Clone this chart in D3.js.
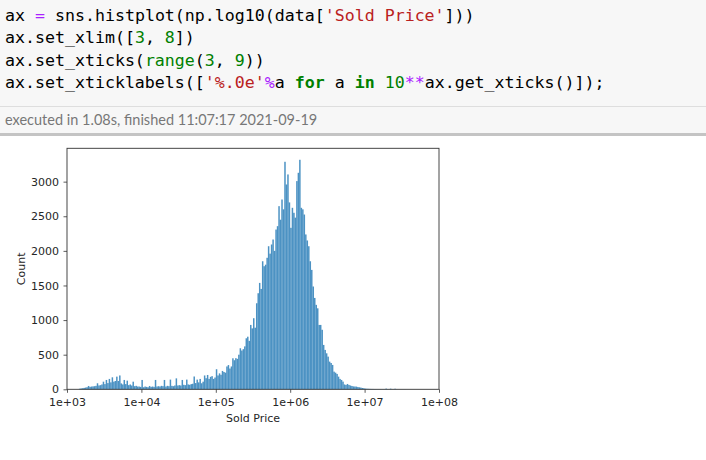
<!DOCTYPE html>
<html>
<head>
<meta charset="utf-8">
<script src="https://cdn.jsdelivr.net/npm/d3@7"></script>
<style>
html,body{margin:0;padding:0;background:#fff;}
svg{display:block;}
</style>
</head>
<body>
<svg id="page" width="706" height="460"></svg>
<script>
// ---- data ----
const binStart = 3.0;
const binWidth = 0.02;
const counts = [
  0,0,0,0,0,0,0,0,8,12,
  15,20,25,30,48,35,40,42,45,50,
  87,55,60,70,110,75,135,90,150,100,
  173,110,120,183,120,200,85,70,135,75,
  125,60,70,55,110,45,50,40,40,35,
  135,30,40,35,30,48,35,40,35,135,
  40,45,40,50,45,135,40,50,45,140,
  50,45,55,158,55,60,55,135,65,60,
  140,70,65,75,80,185,90,140,100,150,
  87,110,200,160,207,150,180,190,150,170,
  290,200,230,210,265,250,240,330,350,300,
  330,448,420,450,440,500,593,560,580,620,
  737,760,700,930,880,1027,890,1243,1388,1537,
  1450,1850,1778,1800,1900,2067,1960,2092,2164,2000,
  2308,2357,2646,2450,2742,2600,3287,2959,3104,2700,
  2333,2622,2550,2480,3008,3128,3316,2622,2600,2525,
  2237,2150,2067,1850,1725,1485,1320,1220,1170,930,
  930,860,641,569,520,472,400,380,352,255,
  240,222,183,150,135,111,70,63,77,63,
  55,48,42,40,39,33,29,25,19,15,
  10,8,7,6,5,5,4,4,3,3,
  3,2,2,2,10,3,2,9,2,2,
  8,2,1,1,1,1,1,1,0,0,
  0,0,0,0,0
];
const xTicks = [3,4,5,6,7,8];
const xTickLabels = ["1e+03","1e+04","1e+05","1e+06","1e+07","1e+08"];
const yTicks = [0,500,1000,1500,2000,2500,3000];
const xLabel = "Sold Price";
const yLabel = "Count";

const codeLines = [
  [["ax ","#000"],["=","#aa22ff"],[" sns.histplot(np.log10(data[","#000"],["'Sold Price'","#ba2121"],["]))","#000"]],
  [["ax.set_xlim([","#000"],["3","#008000"],[", ","#000"],["8","#008000"],["])","#000"]],
  [["ax.set_xticks(","#000"],["range","#008000"],["(","#000"],["3","#008000"],[", ","#000"],["9","#008000"],["))","#000"]],
  [["ax.set_xticklabels([","#000"],["'%.0e'","#ba2121"],["%","#aa22ff"],["a ","#000"],["for","#008000","bold"],[" a ","#000"],["in","#008000","bold"],[" ","#000"],["10","#008000"],["**","#aa22ff"],["ax.get_xticks()]);","#000"]]
];
const execText = "executed in 1.08s, finished 11:07:17 2021-09-19";

// ---- page ----
const svg = d3.select("#page");

svg.append("rect").attr("x",0).attr("y",0).attr("width",706).attr("height",106).attr("fill","#f7f7f7");
svg.append("line").attr("x1",0).attr("x2",706).attr("y1",106.5).attr("y2",106.5).attr("stroke","#dedede");
svg.append("rect").attr("x",0).attr("y",107).attr("width",706).attr("height",26).attr("fill","#f7f7f7");
svg.append("rect").attr("x",0).attr("y",133).attr("width",706).attr("height",3).attr("fill","#c4c4c4");

const baselines = [21, 43, 65.5, 88];
codeLines.forEach((parts,i)=>{
  const t = svg.append("text").attr("x",5).attr("y",baselines[i])
    .attr("font-family","'DejaVu Sans Mono', monospace").attr("font-size",16.6)
    .attr("stroke","#000").attr("stroke-width",0.25).attr("stroke-opacity",0.0)
    .style("white-space","pre");
  parts.forEach(p=>{
    t.append("tspan").attr("fill",p[1]).attr("font-weight",p[2]||"normal").text(p[0]);
  });
});
svg.append("text").attr("x",5).attr("y",125).attr("font-family","Lato, sans-serif")
  .attr("font-size",14.5).attr("fill","#777").text(execText);

// ---- chart ----
const mLeft=67, mRight=439, mTop=148.3, mBottom=389.3;
const x = d3.scaleLinear().domain([3,8]).range([mLeft,mRight]);
const yMax = d3.max(counts)*1.05;
const y = d3.scaleLinear().domain([0,yMax]).range([mBottom,mTop]);

const g = svg.append("g");
g.selectAll("rect.bar").data(counts).join("rect").attr("class","bar")
  .attr("x",(d,i)=>x(binStart+i*binWidth))
  .attr("width",(d,i)=>x(binStart+(i+1)*binWidth)-x(binStart+i*binWidth))
  .attr("y",d=>y(d))
  .attr("height",d=>mBottom-y(d))
  .attr("fill","#1f77b4").attr("fill-opacity",0.8);

const xAxis = d3.axisBottom(x).tickValues(xTicks).tickFormat((d,i)=>xTickLabels[i]).tickSize(3.5).tickPadding(5);
const yAxis = d3.axisLeft(y).tickValues(yTicks).tickFormat(d3.format("d")).tickSize(3.5).tickPadding(4.5);

const gx = svg.append("g").attr("transform",`translate(0,${mBottom})`).call(xAxis);
const gy = svg.append("g").attr("transform",`translate(${mLeft},0)`).call(yAxis);
[gx,gy].forEach(a=>{
  a.select(".domain").remove();
  a.selectAll(".tick line").attr("stroke","#333").attr("stroke-width",0.8);
  a.selectAll(".tick text").attr("font-family","'DejaVu Sans', sans-serif").attr("font-size",11).attr("fill","#262626");
});
svg.append("rect").attr("x",mLeft).attr("y",mTop).attr("width",mRight-mLeft).attr("height",mBottom-mTop)
  .attr("fill","none").attr("stroke","#333").attr("stroke-width",0.9);

svg.append("text").attr("x",(mLeft+mRight)/2).attr("y",422).attr("text-anchor","middle")
  .attr("font-family","'DejaVu Sans', sans-serif").attr("font-size",11).attr("fill","#262626").text(xLabel);
svg.append("text").attr("transform",`translate(25,${(mTop+mBottom)/2}) rotate(-90)`).attr("text-anchor","middle")
  .attr("font-family","'DejaVu Sans', sans-serif").attr("font-size",11).attr("fill","#262626").text(yLabel);
</script>
</body>
</html>
